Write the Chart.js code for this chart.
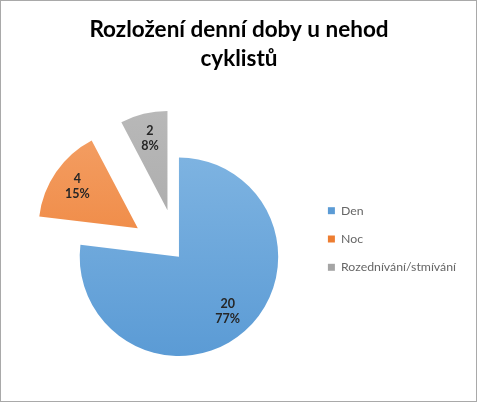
<!DOCTYPE html>
<html>
<head>
<meta charset="utf-8">
<script src="https://cdn.jsdelivr.net/npm/chart.js@4/dist/chart.umd.min.js"></script>
<style>
  html, body { margin: 0; padding: 0; background: #fff; }
  #wrap { position: relative; width: 478px; height: 403px; }
  #frame { position: absolute; left: 0; top: 0; width: 477px; height: 402px; box-sizing: border-box; border: 1px solid #a9a9a9; pointer-events: none; }
</style>
</head>
<body>
<div id="wrap">
  <canvas id="c"></canvas>
  <div id="frame"></div>
</div>
<script>
// ---- data ----
const titleLines = ['Rozložení denní doby u nehod', 'cyklistů'];
const categories = ['Den', 'Noc', 'Rozednívání/stmívání'];
const values = [20, 4, 2];

// ---- styles ----
const baseColors = ['#5B9BD5', '#ED7D31', '#A5A5A5'];
const lightColors = ['#86B9E4', '#F5A771', '#BDBDBD'];
const explode = [0, 50, 48];

const FONT = 'Lato, "Open Sans", "Noto Sans", sans-serif';

function sliceFill(ctx) {
  const i = ctx.dataIndex;
  const area = ctx.chart.chartArea;
  if (!area) return baseColors[i];
  const g = ctx.chart.ctx.createLinearGradient(0, area.top - 50, 0, area.bottom);
  g.addColorStop(0, lightColors[i]);
  g.addColorStop(1, baseColors[i]);
  return g;
}

// shift exploded slices outward along their mid angle
const explodePlugin = {
  id: 'explodeSlices',
  afterLayout(chart) {
    // centre the title over the whole canvas
    if (chart.titleBlock) {
      chart.titleBlock.left = 0;
      chart.titleBlock.right = chart.width;
      chart.titleBlock.width = chart.width;
    }
  },
  afterUpdate(chart) {
    const meta = chart.getDatasetMeta(0);
    meta.data.forEach((arc, i) => {
      if (arc._explodeWrapped) return;
      const orig = arc.draw;
      arc.draw = function (ctx, area) {
        const mid = (this.startAngle + this.endAngle) / 2;
        const d = explode[i] || 0;
        ctx.save();
        ctx.translate(Math.cos(mid) * d, Math.sin(mid) * d);
        orig.call(this, ctx, area);
        ctx.restore();
      };
      arc._explodeWrapped = true;
    });
  }
};

// value + percentage labels inside slices
const labelPlugin = {
  id: 'sliceLabels',
  afterDatasetsDraw(chart) {
    const meta = chart.getDatasetMeta(0);
    const c = chart.ctx;
    const total = values.reduce((a, b) => a + b, 0);
    c.save();
    c.font = 'bold 12.5px ' + FONT;
    c.fillStyle = '#262626';
    c.textAlign = 'center';
    c.textBaseline = 'middle';
    meta.data.forEach((arc, i) => {
      const mid = (arc.startAngle + arc.endAngle) / 2;
      const d = (explode[i] || 0) + arc.outerRadius * 0.74;
      const x = arc.x + Math.cos(mid) * d;
      const y = arc.y + Math.sin(mid) * d;
      const pct = Math.round(values[i] / total * 100) + '%';
      c.fillText(String(values[i]), x, y - 7.5);
      c.fillText(pct, x, y + 7.5);
    });
    c.restore();
  }
};

new Chart(document.getElementById('c'), {
  type: 'pie',
  data: {
    labels: categories,
    datasets: [{
      data: values,
      backgroundColor: sliceFill,
      borderWidth: 0,
      offset: 0,
      hoverOffset: 0
    }]
  },
  options: {
    responsive: true,
    maintainAspectRatio: false,
    animation: false,
    events: [],
    layout: { padding: { left: 46, right: 12, top: 0, bottom: 47 } },
    plugins: {
      tooltip: { enabled: false },
      title: {
        display: true,
        text: titleLines,
        color: '#000000',
        font: { family: FONT, size: 22.5, weight: 'bold', lineHeight: 1.3 },
        padding: { top: 15, bottom: 84 }
      },
      legend: {
        display: true,
        position: 'right',
        align: 'center',
        title: { display: true, text: '', font: { size: 12, lineHeight: 1 }, padding: { top: 55, bottom: 55 } },
        labels: {
          boxWidth: 7,
          boxHeight: 7,
          padding: 16,
          color: '#595959',
          font: { family: FONT, size: 12.3 },
          generateLabels(chart) {
            return categories.map((t, i) => ({
              text: t,
              fillStyle: baseColors[i],
              strokeStyle: baseColors[i],
              lineWidth: 0,
              hidden: false,
              index: i
            }));
          }
        }
      }
    }
  },
  plugins: [explodePlugin, labelPlugin]
});
</script>
</body>
</html>
